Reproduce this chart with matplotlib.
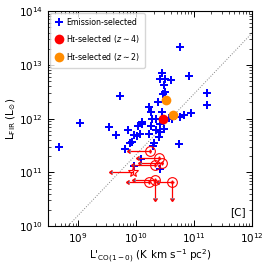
import numpy as np
import matplotlib
matplotlib.use("Agg")
import matplotlib.pyplot as plt

# emission-selected galaxies (log L'CO, log LFIR)
em_logx = [8.67, 9.04, 9.54, 9.66, 9.73, 9.81, 9.90, 9.93, 10.02, 9.97,
           10.30, 10.41, 10.74, 10.03, 10.10, 10.25, 10.23, 10.06, 10.34, 10.39,
           10.31, 10.23, 10.37, 10.45, 10.42, 10.50, 10.60, 10.49, 10.50, 10.47,
           10.92, 10.75, 11.22, 11.23, 10.94, 10.83, 10.75, 10.62, 10.26, 10.45,
           10.28, 10.34, 10.11, 10.42, 10.49, 10.42, 9.97, 9.86, 10.09, 10.56]
em_logy = [11.47, 11.92, 11.84, 11.70, 12.43, 11.43, 11.54, 11.57, 11.67, 11.11,
           11.49, 11.07, 11.53, 11.87, 11.90, 11.87, 11.72, 11.72, 11.78, 11.65,
           11.54, 12.21, 12.31, 12.85, 12.73, 12.74, 12.71, 12.62, 12.49, 12.46,
           12.79, 13.33, 12.48, 12.26, 12.10, 12.06, 12.03, 12.00, 12.13, 12.12,
           12.00, 12.00, 11.93, 11.90, 11.81, 11.75, 11.69, 11.79, 11.25, 12.02]

# HI-selected detections
z4_logx = [10.47]
z4_logy = [12.00]
z2_logx = [10.51, 10.64]
z2_logy = [12.34, 12.06]

# HI-selected z~4 limits: position, left-arrow tip, down-arrow tip (nan = none)
lim_logx = [10.24, 10.40, 10.44, 10.33, 10.33, 10.23, 10.62]
lim_logy = [11.40, 11.26, 11.18, 11.14, 10.85, 10.82, 10.83]
lim_xtip = [9.89, 10.05, 10.08, 9.97, 9.99, 9.87, 10.40]
lim_ytip = [np.nan, np.nan, np.nan, np.nan, 10.53, np.nan, 10.53]
star_logx = [9.95]
star_logy = [11.00]
star_xtip = [9.59]

fig = plt.figure(figsize=(2.66, 2.66), dpi=100)
ax = fig.add_axes([0.18, 0.15, 0.767, 0.808])
ax.set_xscale("log")
ax.set_yscale("log")

# relation line
lx = np.array([8.4, 12.1])
ax.plot(10**lx, 10**(1.13 * lx + 0.03), color="gray", ls=":", lw=0.7, zorder=1)

ax.plot(10**np.array(em_logx), 10**np.array(em_logy), "P", color="blue",
        ms=6.2, mew=0, ls="none", label="Emission-selected", zorder=3)

red = "red"
lx_ = 10**np.array(lim_logx)
ly_ = 10**np.array(lim_logy)
ax.errorbar(lx_, ly_, xerr=lx_ - 10**np.array(lim_xtip), xuplims=True,
            fmt="none", ecolor=red, elinewidth=0.9, capsize=1.5, zorder=4)
has_down = ~np.isnan(lim_ytip)
ax.errorbar(lx_[has_down], ly_[has_down],
            yerr=ly_[has_down] - 10**np.array(lim_ytip)[has_down], uplims=True,
            fmt="none", ecolor=red, elinewidth=0.9, capsize=1.5, zorder=4)
ax.plot(lx_, ly_, "o", mfc="none", mec=red, ms=7, mew=0.8, zorder=5)
ax.plot(lx_, ly_, ".", color=red, ms=2, zorder=5)

sx = 10**np.array(star_logx)
sy = 10**np.array(star_logy)
ax.errorbar(sx, sy, xerr=sx - 10**np.array(star_xtip), xuplims=True,
            fmt="none", ecolor=red, elinewidth=0.9, capsize=1.5, zorder=4)
ax.plot(sx, sy, "*", mfc="none", mec=red, ms=8, mew=0.8, zorder=5)

ax.plot(10**np.array(z4_logx), 10**np.array(z4_logy), "o", color="red",
        ms=7, mew=0, ls="none", label="H\u026a-selected ($z\\sim4$)", zorder=6)
ax.plot(10**np.array(z2_logx), 10**np.array(z2_logy), "o", color="darkorange",
        ms=7, mew=0, ls="none", label="H\u026a-selected ($z\\sim2$)", zorder=6)

ax.set_xlim(3e8, 1e12)
ax.set_ylim(1e10, 1e14)
ax.set_xticks([1e9, 1e10, 1e11, 1e12])
ax.set_yticks([1e10, 1e11, 1e12, 1e13, 1e14])
ax.tick_params(which="both", direction="in", top=True, right=True, labelsize=7.5)
ax.tick_params(which="major", length=4, width=0.7)
ax.tick_params(which="minor", length=2, width=0.5)
for s in ax.spines.values():
    s.set_linewidth(0.8)

ax.set_xlabel("L$'_{\\rm CO(1-0)}$ (K km s$^{-1}$ pc$^2$)", fontsize=7.5, labelpad=2)
ax.set_ylabel("L$_{\\rm FIR}$ (L$_{\\odot}$)", fontsize=7.5, labelpad=1)
ax.text(0.93, 0.065, "[C]", transform=ax.transAxes, ha="center", va="center", fontsize=7.5)

ax.legend(loc="upper left", fontsize=5.7, handletextpad=0.3, borderpad=0.6,
          labelspacing=0.75, markerscale=1.0, borderaxespad=0.25, handlelength=1.2)

fig.savefig("out.png", dpi=100)
